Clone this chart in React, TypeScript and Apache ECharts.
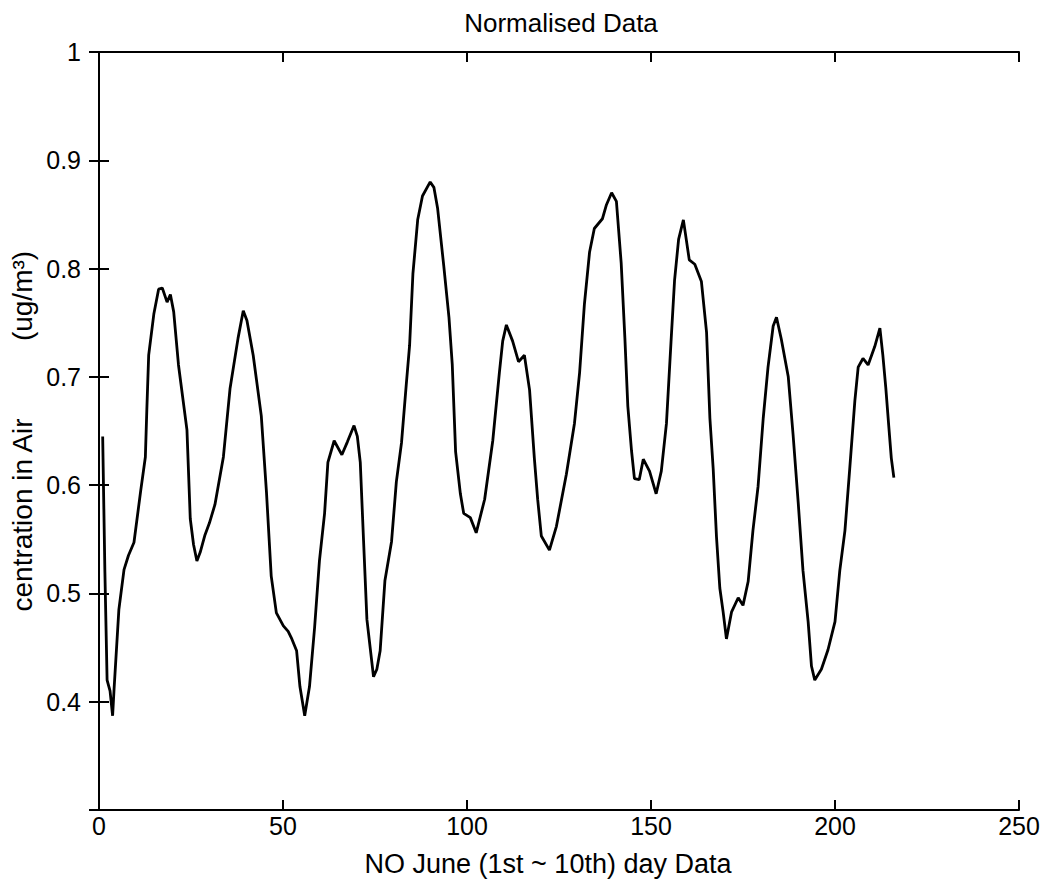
import React, { useEffect, useRef } from "react";
import * as echarts from "echarts";

// Sample index (x) and normalised concentration (y)
const dayIndex: number[] = [
  1, 1.6, 2.2, 3.0, 3.7, 4.1, 5.4, 6.8, 8.0, 9.5, 11.3, 12.6, 13.0, 13.5, 14.9, 16.2, 17.2, 18.5, 19.4, 20.3,
  21.6, 23.9, 24.8, 25.7, 26.6, 27.5, 28.8, 30.0, 31.5, 33.8, 35.6, 37.8, 39.2, 40.2, 41.9, 44.1, 45.5, 46.8, 48.2,
  50.1, 51.4, 52.4, 53.7, 54.6, 55.9, 57.2, 58.6, 59.9, 61.3, 62.2, 63.9, 66.0, 67.5, 69.3, 70.2, 71.0, 71.9, 72.8,
  74.6, 75.5, 76.4, 77.7, 79.5, 80.8, 82.2, 83.5, 84.4, 85.3, 86.6, 87.9, 90.0, 91.0, 92.0, 93.7, 95.1, 96.0, 96.9,
  98.2, 99.1, 100.9, 102.5, 104.8, 107.0, 108.8, 109.7, 110.7, 112.4, 114.0, 115.6, 117.0, 118.3, 119.2, 120.2,
  122.4, 124.3, 127.0, 129.2, 130.6, 131.9, 133.3, 134.6, 136.8, 137.9, 139.3, 140.6, 141.9, 142.9, 143.7, 144.7,
  145.5, 146.8, 147.9, 149.6, 151.4, 152.8, 154.2, 155.5, 156.4, 157.5, 158.8, 160.4, 161.9, 163.7, 165.1, 166.0,
  166.9, 167.8, 168.7, 169.6, 170.5, 171.9, 173.7, 175.0, 176.4, 177.7, 179.1, 180.5, 181.8, 183.2, 184.1, 185.4,
  187.3, 188.6, 190.0, 191.3, 192.7, 193.6, 194.5, 196.3, 198.1, 200.0, 201.3, 202.7, 204.0, 205.4, 206.3, 207.6,
  209.0, 210.8, 212.2, 213.0, 213.8, 214.6, 215.3, 216.0,
];

const concentration: number[] = [
  0.645, 0.52, 0.42, 0.41, 0.387, 0.412, 0.485, 0.522, 0.535, 0.547, 0.594, 0.626, 0.67, 0.72, 0.758, 0.781, 0.782, 0.769, 0.776, 0.76,
  0.711, 0.651, 0.569, 0.545, 0.53, 0.538, 0.554, 0.565, 0.582, 0.626, 0.689, 0.736, 0.761, 0.752, 0.72, 0.664, 0.594, 0.516, 0.482,
  0.47, 0.465, 0.458, 0.447, 0.414, 0.387, 0.414, 0.469, 0.53, 0.574, 0.621, 0.641, 0.628, 0.64, 0.655, 0.645, 0.621, 0.548, 0.476,
  0.423, 0.43, 0.447, 0.512, 0.548, 0.603, 0.639, 0.693, 0.729, 0.795, 0.845, 0.867, 0.88, 0.875, 0.856, 0.802, 0.755, 0.711, 0.631,
  0.592, 0.574, 0.57, 0.556, 0.587, 0.641, 0.704, 0.733, 0.748, 0.733, 0.714, 0.72, 0.688, 0.625, 0.587, 0.553,
  0.54, 0.562, 0.61, 0.657, 0.704, 0.767, 0.815, 0.837, 0.846, 0.859, 0.87, 0.862, 0.805, 0.736, 0.673, 0.632,
  0.606, 0.605, 0.624, 0.613, 0.592, 0.613, 0.657, 0.736, 0.789, 0.827, 0.845, 0.808, 0.804, 0.788, 0.741, 0.662,
  0.615, 0.552, 0.505, 0.483, 0.458, 0.483, 0.496, 0.489, 0.511, 0.558, 0.599, 0.662, 0.709, 0.747, 0.755, 0.735,
  0.7, 0.647, 0.584, 0.521, 0.474, 0.433, 0.42, 0.43, 0.448, 0.474, 0.521, 0.558, 0.615, 0.678, 0.709, 0.717,
  0.711, 0.728, 0.745, 0.72, 0.69, 0.655, 0.625, 0.607,
];

const xTicks: number[] = [0, 50, 100, 150, 200, 250];
const yTicks: number[] = [0.3, 0.4, 0.5, 0.6, 0.7, 0.8, 0.9, 1];

const titleText = "Normalised Data";
const xName = "NO June (1st ~ 10th) day Data";
const yNameMain = "centration in Air";
const yNameUnit = "(ug/m³)";

const tickFont = '"Liberation Sans Narrow", "Arial Narrow", "Liberation Sans", Arial, sans-serif';
const textFont = '"Liberation Sans", Arial, sans-serif';

export default function App() {
  const ref = useRef<HTMLDivElement>(null);

  useEffect(() => {
    if (!ref.current) return;
    const chart = echarts.init(ref.current, undefined, { renderer: "svg" });
    const data = dayIndex.map((x, i) => [x, concentration[i]]);
    const axisLine = { show: true, lineStyle: { color: "#000", width: 2 } };
    const axisTick = { show: true, inside: true, length: 10, lineStyle: { color: "#000", width: 2 } };

    chart.setOption({
      animation: false,
      backgroundColor: "#fff",
      grid: { left: 99, right: 25, top: 52, bottom: 75, containLabel: false },
      xAxis: [
        {
          type: "value",
          min: xTicks[0],
          max: xTicks[xTicks.length - 1],
          interval: xTicks[1] - xTicks[0],
          position: "bottom",
          axisLine,
          axisTick,
          splitLine: { show: false },
          axisLabel: {
            color: "#000",
            fontSize: 25,
            fontFamily: tickFont,
            margin: 3,
          },
        },
        {
          type: "value",
          min: xTicks[0],
          max: xTicks[xTicks.length - 1],
          interval: xTicks[1] - xTicks[0],
          position: "top",
          axisLine,
          axisTick,
          splitLine: { show: false },
          axisLabel: { show: false },
        },
      ],
      yAxis: [
        {
          type: "value",
          min: yTicks[0],
          max: yTicks[yTicks.length - 1],
          interval: 0.1,
          position: "left",
          axisLine,
          axisTick,
          splitLine: { show: false },
          axisLabel: {
            color: "#000",
            fontSize: 25,
            fontFamily: tickFont,
            margin: 18,
            formatter: (v: number) => {
              const r = Math.round(v * 10) / 10;
              return r < 0.35 ? "" : String(r);
            },
          },
        },
        {
          type: "value",
          min: yTicks[0],
          max: yTicks[yTicks.length - 1],
          interval: 0.1,
          position: "right",
          axisLine,
          axisTick,
          splitLine: { show: false },
          axisLabel: { show: false },
        },
      ],
      series: [
        {
          type: "line",
          data,
          xAxisIndex: 0,
          yAxisIndex: 0,
          showSymbol: false,
          symbol: "none",
          smooth: false,
          lineStyle: { color: "#000", width: 2.8 },
        },
      ],
      graphic: [
        {
          type: "text",
          x: 561,
          y: 23,
          style: {
            text: titleText,
            fill: "#000",
            font: `26px ${textFont}`,
            align: "center",
            verticalAlign: "middle",
          },
        },
        {
          type: "text",
          x: 548,
          y: 864,
          style: {
            text: xName,
            fill: "#000",
            font: `27px ${textFont}`,
            align: "center",
            verticalAlign: "middle",
          },
        },
        {
          type: "text",
          x: 22,
          y: 515,
          rotation: Math.PI / 2,
          style: {
            text: yNameMain,
            fill: "#000",
            font: `28px ${textFont}`,
            align: "center",
            verticalAlign: "middle",
          },
        },
        {
          type: "text",
          x: 22,
          y: 296,
          rotation: Math.PI / 2,
          style: {
            text: yNameUnit,
            fill: "#000",
            font: `28px ${textFont}`,
            align: "center",
            verticalAlign: "middle",
          },
        },
      ],
    });

    return () => chart.dispose();
  }, []);

  return (
    <div
      ref={ref}
      style={{ position: "fixed", left: 0, top: 0, width: 1044, height: 885, background: "#fff" }}
    />
  );
}
